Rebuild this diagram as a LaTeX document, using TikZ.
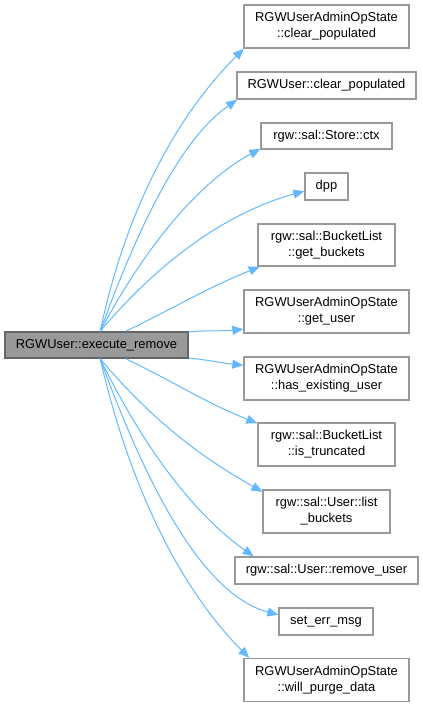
\documentclass[tikz,border=0pt]{standalone}
\usepackage{fontspec}
\setmainfont{Liberation Sans}
\usepackage{xcolor}
\usetikzlibrary{arrows.meta,positioning}
\definecolor{edgeblue}{HTML}{63B8FF}
\definecolor{boxgray}{HTML}{999999}
\definecolor{maingray}{HTML}{666666}

\begin{document}
\begin{tikzpicture}[x=1pt,y=1pt,font=\fontsize{12.9}{16}\selectfont,
    fn/.style={draw=boxgray,line width=1.3pt,fill=white,inner sep=0pt,align=center},
    mainfn/.style={draw=maingray,line width=1.3pt,fill=boxgray,inner sep=0pt,minimum width=183,minimum height=26},
    call/.style={draw=edgeblue,line width=1pt,-{Triangle[length=11pt,width=9pt]}},
    sweep/.style={out looseness=1.18,in looseness=0.62}]
    \useasboundingbox (0,0) rectangle (423,-707);
    % caller
    \node[mainfn] at (96.5,-345) (main) {RGWUser::execute\_remove};
    % callees
    \node[fn,minimum width=165,minimum height=43] at (326.5,-26.5) (c1) {RGWUserAdminOpState\\::clear\_populated};
    \node[fn,minimum width=179,minimum height=27] at (326.5,-85.5) (c2) {RGWUser::clear\_populated};
    \node[fn,minimum width=131,minimum height=26] at (326.5,-136) (c3) {rgw::sal::Store::ctx};
    \node[fn,minimum width=43,minimum height=27] at (326.5,-186.5) (c4) {dpp};
    \node[fn,minimum width=137,minimum height=42] at (326.5,-245) (c5) {rgw::sal::BucketList\\::get\_buckets};
    \node[fn,minimum width=165,minimum height=43] at (326.5,-311.5) (c6) {RGWUserAdminOpState\\::get\_user};
    \node[fn,minimum width=165,minimum height=43] at (326.5,-378.5) (c7) {RGWUserAdminOpState\\::has\_existing\_user};
    \node[fn,minimum width=137,minimum height=43] at (326.5,-444.5) (c8) {rgw::sal::BucketList\\::is\_truncated};
    \node[fn,minimum width=127,minimum height=43] at (326.5,-511.5) (c9) {rgw::sal::User::list\\\_buckets};
    \node[fn,minimum width=183,minimum height=27] at (326.5,-570.5) (c10) {rgw::sal::User::remove\_user};
    \node[fn,minimum width=94,minimum height=27] at (326,-621.5) (c11) {set\_err\_msg};
    \node[fn,minimum width=165,minimum height=43] at (326.5,-680) (c12) {RGWUserAdminOpState\\::will\_purge\_data};

    % calls going up
    \draw[call] (main.75) to[out=78,in=225,sweep] (c1.195);
    \draw[call] (main.75) to[out=70,in=215,sweep] (c2.189);
    \draw[call] (main.75) to[out=62,in=208,sweep] (c3.191);
    \draw[call] (main.75) to[out=50,in=195,sweep] (c4.192);
    \draw[call] (main.25) to[out=26,in=202] (c5.198);
    \draw[call] (main.8) to[out=6,in=186] (c6.192);
    % calls going down
    \draw[call] (main.352) to[out=-6,in=174] (c7.171);
    \draw[call] (main.335) to[out=-26,in=158] (c8.163);
    \draw[call] (main.285) to[out=-50,in=150,sweep] (c9.163);
    \draw[call] (main.285) to[out=-64,in=145,sweep] (c10.169);
    \draw[call] (main.285) to[out=-70,in=165,sweep] (c11.172);
    \draw[call] (main.285) to[out=-77,in=135,sweep] (c12.164);
\end{tikzpicture}
\end{document}
